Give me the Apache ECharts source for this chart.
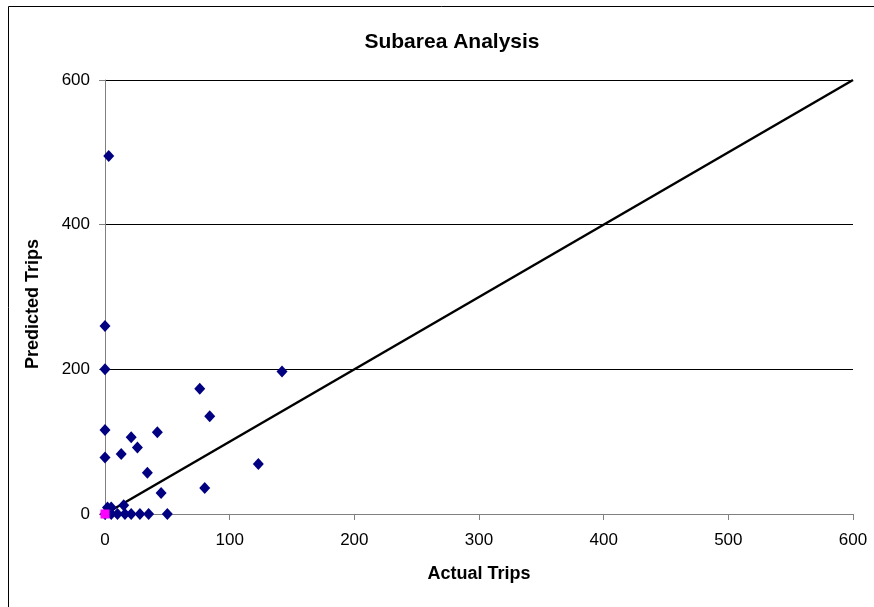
<!DOCTYPE html>
<html>
<head>
<meta charset="utf-8">
<script src="https://cdn.jsdelivr.net/npm/echarts@6/dist/echarts.min.js"></script>
<style>
html,body{margin:0;padding:0;background:#fff;}
#chart{width:874px;height:607px;}
</style>
</head>
<body>
<div id="chart"></div>
<script>
var titleText = "Subarea Analysis";
var xAxisName = "Actual Trips";
var yAxisName = "Predicted Trips";
var actualTrips =    [3, 0, 0, 76, 142, 84, 0, 21, 42, 26, 13, 0, 123, 34, 80, 45, 15, 2, 5, 0, 5, 10, 16, 21, 28, 35, 50];
var predictedTrips = [495, 260, 200, 173, 197, 135, 116, 106, 113, 92, 83, 78, 69, 57, 36, 29, 12, 9, 9, 0, 0, 0, 0, 0, 0, 0, 0];
var zeroActual = [0];
var zeroPredicted = [0];
var lineX = [0, 600];
var lineY = [0, 600];

var scatterData = actualTrips.map(function(v, i){ return [v, predictedTrips[i]]; });
var zeroData = zeroActual.map(function(v, i){ return [v, zeroPredicted[i]]; });
var lineData = lineX.map(function(v, i){ return [v, lineY[i]]; });

var chart = echarts.init(document.getElementById('chart'), null, {renderer:'canvas'});
var font = 'Liberation Sans, Arial, sans-serif';
chart.setOption({
  animation: false,
  backgroundColor: '#fff',
  graphic: [{
    type: 'rect', z: -1, silent: true,
    shape: {x: 8.5, y: 6.5, width: 878, height: 610},
    style: {fill: 'none', stroke: '#000', lineWidth: 1}
  }],
  title: {
    text: titleText, left: 447, top: 27, textAlign: 'center',
    textStyle: {fontFamily: font, fontSize: 21, fontWeight: 'bold', color: '#000'}
  },
  grid: {left: 105, right: 21, top: 80, bottom: 93, containLabel: false},
  xAxis: {
    type: 'value', min: 0, max: 600, interval: 100,
    name: xAxisName, nameLocation: 'middle', nameGap: 51,
    nameTextStyle: {fontFamily: font, fontSize: 18, fontWeight: 'bold', color: '#000', verticalAlign: 'top'},
    axisLine: {show: true, onZero: false, lineStyle: {color: '#808080', width: 1}},
    axisTick: {show: true, length: 6, inside: false, lineStyle: {color: '#808080'}},
    axisLabel: {fontFamily: font, fontSize: 17, color: '#000', margin: 18},
    splitLine: {show: false}
  },
  yAxis: {
    type: 'value', min: 0, max: 600, interval: 200,
    name: yAxisName, nameLocation: 'middle', nameGap: 63, nameRotate: 90,
    nameTextStyle: {fontFamily: font, fontSize: 18, fontWeight: 'bold', color: '#000', padding: [0, 14, 0, 0]},
    axisLine: {show: true, onZero: false, lineStyle: {color: '#808080', width: 1}},
    axisTick: {show: true, length: 6, inside: false, lineStyle: {color: '#808080'}},
    axisLabel: {fontFamily: font, fontSize: 17, color: '#000', margin: 15},
    splitLine: {show: true, lineStyle: {color: '#000', width: 1}}
  },
  series: [
    {
      type: 'line', data: lineData, symbol: 'none', z: 3,
      lineStyle: {color: '#000', width: 2.5}
    },
    {
      type: 'scatter', data: scatterData, symbol: 'diamond', symbolSize: [11, 12], z: 4,
      itemStyle: {color: '#000080', opacity: 1}
    },
    {
      type: 'scatter', data: zeroData, symbol: 'rect', symbolSize: 9, z: 5,
      itemStyle: {color: '#ff00ff', opacity: 1}
    }
  ]
});
</script>
</body>
</html>
